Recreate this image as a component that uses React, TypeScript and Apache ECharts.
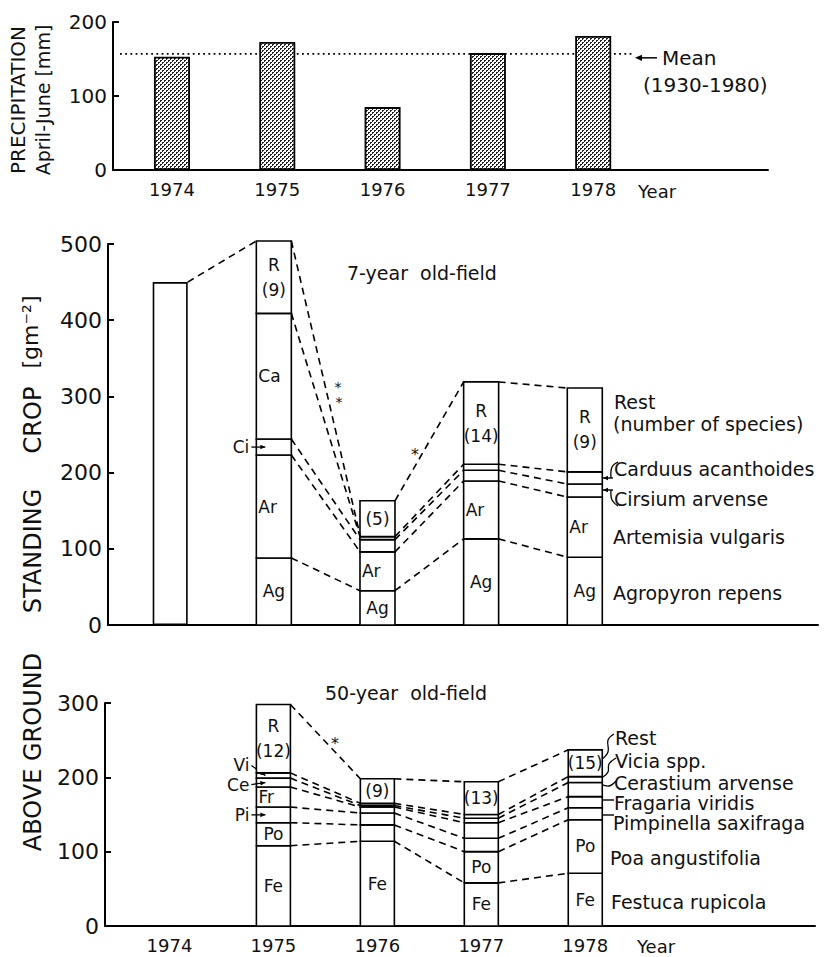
import React, { useEffect, useRef } from 'react';
import * as echarts from 'echarts';

const FONT = '"DejaVu Sans", "Noto Sans", sans-serif';
const INK = '#111';

// ---------- Precipitation April-June [mm]
const precipYears = [1974, 1975, 1976, 1977, 1978];
const precipitation = [153, 173, 85, 158, 181];
const precipitationMean = 157; // mean 1930-1980
const yearTicks = [1974, 1975, 1976, 1977, 1978];

// ---------- Standing crop, 7-year old-field [g m-2], species amounts stacked bottom -> top
const fieldYears = [1975, 1976, 1977, 1978];
const total7In1974 = 450;
const agropyron7 = [88, 45, 113, 89];
const artemisia7 = [135, 51, 76, 79];
const cirsium7 = [21, 16, 14, 17];
const carduus7 = [165, 4, 8, 16];
const rest7 = [95, 47, 108, 110];
const restSpecies7 = [9, 5, 14, 9];
const restShowR7 = [true, false, true, true];
const link1975TopEnd7 = 118; // dashed line from the 1975 total ends at this level in 1976

// ---------- Standing crop, 50-year old-field [g m-2]
const festuca50 = [108, 114, 58, 71];
const poa50 = [31, 22, 42, 72];
const pimpinella50 = [21, 16, 18, 16];
const fragaria50 = [27, 8, 21, 15];
const cerastium50 = [12, 2, 6, 19];
const vicia50 = [7, 3, 5, 8];
const rest50 = [92, 33, 44, 36];
const restSpecies50 = [12, 9, 13, 15];
const restShowR50 = [true, false, false, false];

type Seg = { values: number[]; labels: string[]; align: 'left' | 'center'; side?: { text: string; dy: number } };

const restLabels = (n: number[], showR: boolean[]) => n.map((v, i) => (showR[i] ? 'R\n' : '') + '(' + v + ')');

const stack7: Seg[] = [
  { values: agropyron7, labels: ['Ag', 'Ag', 'Ag', 'Ag'], align: 'center' },
  { values: artemisia7, labels: ['Ar', 'Ar', 'Ar', 'Ar'], align: 'left' },
  { values: cirsium7, labels: ['', '', '', ''], align: 'center', side: { text: 'Ci', dy: 0 } },
  { values: carduus7, labels: ['Ca', '', '', ''], align: 'left' },
  { values: rest7, labels: restLabels(restSpecies7, restShowR7), align: 'center' },
];

const stack50: Seg[] = [
  { values: festuca50, labels: ['Fe', 'Fe', 'Fe', 'Fe'], align: 'center' },
  { values: poa50, labels: ['Po', '', 'Po', 'Po'], align: 'center' },
  { values: pimpinella50, labels: ['', '', '', ''], align: 'center', side: { text: 'Pi', dy: 0 } },
  { values: fragaria50, labels: ['Fr', '', '', ''], align: 'left' },
  { values: cerastium50, labels: ['', '', '', ''], align: 'center', side: { text: 'Ce', dy: 2 } },
  { values: vicia50, labels: ['', '', '', ''], align: 'center', side: { text: 'Vi', dy: -10 } },
  { values: rest50, labels: restLabels(restSpecies50, restShowR50), align: 'center' },
];

function cumulativeTops(segs: Seg[]) {
  const tops: number[][] = [];
  let run = fieldYears.map(() => 0);
  segs.forEach((s) => {
    run = run.map((r, i) => r + s.values[i]);
    tops.push(run.slice());
  });
  return tops;
}

function buildLinks(segs: Seg[]) {
  const tops = cumulativeTops(segs);
  const links: number[][] = [];
  tops.forEach((t) => {
    for (let i = 0; i < fieldYears.length - 1; i++) links.push([fieldYears[i], t[i], fieldYears[i + 1], t[i + 1]]);
  });
  return { links, tops };
}

const arrowHead = (x1: number, y1: number, x2: number, y2: number, size = 5) => {
  const a = Math.atan2(y2 - y1, x2 - x1);
  const p1 = [x2 - size * Math.cos(a) + (size / 2.2) * Math.sin(a), y2 - size * Math.sin(a) - (size / 2.2) * Math.cos(a)];
  const p2 = [x2 - size * Math.cos(a) - (size / 2.2) * Math.sin(a), y2 - size * Math.sin(a) + (size / 2.2) * Math.cos(a)];
  return { type: 'polygon', silent: true, shape: { points: [[x2, y2], p1, p2] }, style: { fill: '#000' } };
};
const arrow = (x1: number, y1: number, x2: number, y2: number, size = 5) => [
  { type: 'line', silent: true, shape: { x1, y1, x2, y2 }, style: { stroke: '#000', lineWidth: 1.4 } },
  arrowHead(x1, y1, x2, y2, size),
];
const poly = (pts: number[][]) => ({ type: 'polyline', silent: true, shape: { points: pts, smooth: 0.4 }, style: { stroke: '#000', lineWidth: 1.3, fill: 'none' } });
const txt = (text: string, x: number, y: number, size: number, align = 'left', rotation = 0, lineHeight?: number) => ({
  type: 'text', silent: true, x, y, rotation,
  style: { text, fill: INK, font: `${size}px ${FONT}`, align, verticalAlign: 'middle', lineHeight },
});

function makeStackRender(segs: Seg[], bw: number) {
  return (params: any, api: any) => {
    const x = api.value(0);
    const children: any[] = [];
    let base = 0;
    segs.forEach((s, k) => {
      const v = api.value(k + 1);
      const pb = api.coord([x, base]);
      const pt = api.coord([x, base + v]);
      const left = pb[0] - bw / 2;
      const cy = (pb[1] + pt[1]) / 2;
      children.push({
        type: 'rect',
        shape: { x: left, y: pt[1], width: bw, height: pb[1] - pt[1] },
        style: { fill: '#fff', stroke: '#000', lineWidth: 1.6 },
      });
      const lab = s.labels[params.dataIndex];
      if (lab) {
        children.push({
          type: 'text', x: s.align === 'left' ? left + 2 : pb[0], y: cy, z2: 5,
          style: { text: lab, fill: INK, font: `17px ${FONT}`, align: s.align, verticalAlign: 'middle', lineHeight: 25 },
        });
      }
      if (s.side && params.dataIndex === 0) {
        const ty = cy + s.side.dy;
        children.push({
          type: 'text', x: left - 7, y: ty, z2: 5,
          style: { text: s.side.text, fill: INK, font: `17px ${FONT}`, align: 'right', verticalAlign: 'middle' },
        });
        children.push({ type: 'line', shape: { x1: left - 5, y1: ty, x2: left + 9, y2: cy }, style: { stroke: '#000', lineWidth: 1.3 } });
        children.push(arrowHead(left - 5, ty, left + 9, cy, 5));
      }
      base += v;
    });
    return { type: 'group', children };
  };
}

function makeLinkRender(bw: number) {
  return (_params: any, api: any) => {
    const a = api.coord([api.value(0), api.value(1)]);
    const b = api.coord([api.value(2), api.value(3)]);
    return {
      type: 'line',
      shape: { x1: a[0] + bw / 2, y1: a[1], x2: b[0] - bw / 2, y2: b[1] },
      style: { stroke: '#000', lineWidth: 1.6, lineDash: [7, 5] },
    };
  };
}

function makePattern() {
  const c = document.createElement('canvas');
  c.width = 4;
  c.height = 4;
  const ctx = c.getContext('2d')!;
  ctx.fillStyle = '#fff';
  ctx.fillRect(0, 0, 4, 4);
  ctx.fillStyle = '#222';
  [[0, 0], [1, 0], [0, 1], [2, 2], [3, 2], [2, 3]].forEach(([px, py]) => ctx.fillRect(px, py, 1, 1));
  return { image: c, repeat: 'repeat' };
}

function buildOption() {
  const bw = 35;
  const l7 = buildLinks(stack7);
  const topLevel7 = l7.tops[l7.tops.length - 1];
  const links7 = l7.links.map((r) =>
    r[1] === topLevel7[0] && r[0] === fieldYears[0] ? [r[0], r[1], r[2], link1975TopEnd7] : r
  );
  links7.unshift([1974, total7In1974, fieldYears[0], topLevel7[0]]);
  const links50 = buildLinks(stack50).links;

  const axisLineStyle = { color: '#000', width: 2 };
  const xAxis = (gridIndex: number, min: number, max: number, show: boolean) => ({
    type: 'value', gridIndex, min, max, minInterval: 1, maxInterval: 1,
    axisLine: { show: true, onZero: false, lineStyle: axisLineStyle },
    axisTick: { show: false }, splitLine: { show: false },
    axisLabel: {
      show, margin: 10, fontSize: 18, fontFamily: FONT, color: INK,
      formatter: (v: number) => {
        const r = Math.round(v);
        return Math.abs(v - r) < 1e-6 && yearTicks.includes(r) ? String(r) : '';
      },
    },
  });
  const yAxis = (gridIndex: number, max: number, fontSize: number) => ({
    type: 'value', gridIndex, min: 0, max, interval: 100,
    axisLine: { show: true, lineStyle: axisLineStyle },
    axisTick: { show: true, inside: true, length: 6, lineStyle: { color: '#000', width: 2 } },
    splitLine: { show: false },
    axisLabel: { margin: 6, fontSize, fontFamily: FONT, color: INK },
  });

  const graphic: any[] = [
    // axis titles
    txt('PRECIPITATION', 18, 100, 20, 'center', Math.PI / 2),
    txt('April-June [mm]', 43, 100, 19, 'center', Math.PI / 2),
    txt('ABOVE GROUND', 33, 752, 24, 'center', Math.PI / 2),
    txt('STANDING', 33, 551, 24, 'center', Math.PI / 2),
    txt('CROP', 33, 420, 24, 'center', Math.PI / 2),
    txt('[gm⁻²]', 30, 332, 22, 'center', Math.PI / 2),
    // precipitation annotation
    txt('Mean', 662, 58, 20),
    txt('(1930-1980)', 643, 85, 20),
    txt('Year', 638, 191, 18),
    txt('Year', 637, 946, 18),
    // panel titles
    txt('7-year  old-field', 347, 273, 19),
    txt('50-year  old-field', 325, 693, 19),
    // 7-year legend
    txt('Rest', 614, 402, 19),
    txt('(number of species)', 613, 424, 19),
    txt('Carduus acanthoides', 614, 469, 19),
    txt('Cirsium arvense', 614, 499, 19),
    txt('Artemisia vulgaris', 613, 537, 19),
    txt('Agropyron repens', 613, 593, 19),
    ...arrow(613, 478, 603, 478, 5),
    ...arrow(613, 490, 603, 490, 5),
    poly([[618, 462], [612, 467], [611, 478]]),
    poly([[618, 506], [612, 500], [611, 490]]),
    // 50-year legend
    txt('Rest', 615, 738, 19),
    txt('Vicia spp.', 615, 761, 19),
    txt('Cerastium arvense', 614, 783, 19),
    txt('Fragaria viridis', 614, 803, 19),
    txt('Pimpinella saxifraga', 613, 823, 19),
    txt('Poa angustifolia', 610, 858, 19),
    txt('Festuca rupicola', 611, 902, 19),
    poly([[614, 734], [608, 740], [608, 752], [601, 760]]),
    poly([[616, 758], [609, 764], [608, 772], [603, 777]]),
    poly([[616, 781], [609, 786], [601, 784]]),
    { type: 'rect', silent: true, shape: { x: 597, y: 780, width: 5, height: 7 }, style: { fill: '#000' } },
    ...arrow(614, 800, 597, 800, 6),
    ...arrow(614, 815, 597, 815, 6),
    // significance marks
    txt('*', 338, 387, 14, 'center', 0, 12),
    txt('*', 339, 402, 14, 'center', 0, 12),
    txt('*', 415, 454, 16, 'center'),
    txt('*', 335, 743, 16, 'center'),
  ];

  return {
    animation: false,
    backgroundColor: '#fff',
    textStyle: { fontFamily: FONT },
    grid: [
      { left: 113, top: 22, width: 655, height: 148 },
      { left: 108, top: 244, width: 710, height: 381 },
      { left: 105, top: 703, width: 710, height: 223 },
    ],
    xAxis: [xAxis(0, 1973.44, 1979.66, true), xAxis(1, 1973.4, 1980.25, false), xAxis(2, 1973.38, 1980.21, true)],
    yAxis: [yAxis(0, 200, 20), yAxis(1, 500, 22), yAxis(2, 300, 22)],
    series: [
      {
        type: 'custom', xAxisIndex: 0, yAxisIndex: 0, z: 1,
        data: [[precipYears[0], precipitationMean]],
        renderItem: (params: any, api: any) => {
          const y = api.coord([api.value(0), api.value(1)])[1];
          const x0 = params.coordSys.x + 7;
          const x1 = 634;
          return {
            type: 'group',
            children: [
              { type: 'line', shape: { x1: x0, y1: y, x2: x1, y2: y }, style: { stroke: '#000', lineWidth: 1.8, lineDash: [1.8, 3.4] } },
              { type: 'line', shape: { x1: 657, y1: y + 4, x2: 640, y2: y + 4 }, style: { stroke: '#000', lineWidth: 1.5 } },
              arrowHead(657, y + 4, 635, y + 4, 7),
            ],
          };
        },
      },
      {
        type: 'bar', xAxisIndex: 0, yAxisIndex: 0, z: 3, barWidth: 36,
        data: precipYears.map((y, i) => [y, precipitation[i]]),
        itemStyle: { color: makePattern() as any, borderColor: '#000', borderWidth: 1.8 },
      },
      {
        type: 'bar', xAxisIndex: 1, yAxisIndex: 1, barWidth: bw,
        data: [[1974, total7In1974]],
        itemStyle: { color: '#fff', borderColor: '#000', borderWidth: 1.6 },
      },
      {
        type: 'custom', xAxisIndex: 1, yAxisIndex: 1,
        data: fieldYears.map((y, i) => [y, ...stack7.map((s) => s.values[i])]),
        renderItem: makeStackRender(stack7, bw),
      },
      { type: 'custom', xAxisIndex: 1, yAxisIndex: 1, data: links7, renderItem: makeLinkRender(bw) },
      {
        type: 'custom', xAxisIndex: 2, yAxisIndex: 2,
        data: fieldYears.map((y, i) => [y, ...stack50.map((s) => s.values[i])]),
        renderItem: makeStackRender(stack50, 34),
      },
      { type: 'custom', xAxisIndex: 2, yAxisIndex: 2, data: links50, renderItem: makeLinkRender(34) },
    ],
    graphic,
  };
}

export default function App() {
  const ref = useRef<HTMLDivElement>(null);
  useEffect(() => {
    document.body.style.margin = '0';
    const chart = echarts.init(ref.current!, null, { renderer: 'svg' });
    chart.setOption(buildOption() as any);
    return () => chart.dispose();
  }, []);
  return <div ref={ref} style={{ position: 'absolute', left: 0, top: 0, width: 831, height: 957, background: '#fff' }} />;
}
